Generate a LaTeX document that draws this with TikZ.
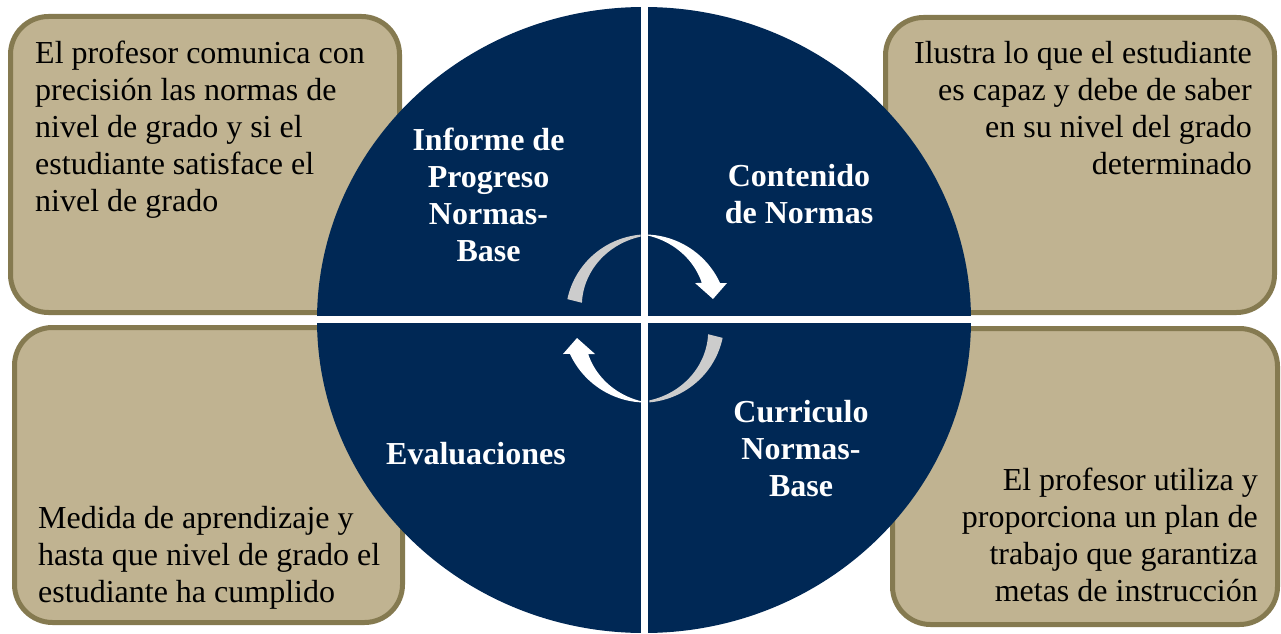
\documentclass[tikz,border=0pt]{standalone}
\usepackage{fontspec}
\setmainfont{Liberation Serif}
\definecolor{navy}{RGB}{0,40,85}
\definecolor{boxfill}{RGB}{192,179,145}
\definecolor{boxline}{RGB}{133,122,80}
\definecolor{arrowgrey}{RGB}{204,204,204}
\begin{document}
\begin{tikzpicture}[x=1pt,y=1pt,
  infobox/.style={draw=boxline, fill=boxfill, line width=5pt, rounded corners=38pt},
  infotext/.style={inner sep=0pt, font=\fontsize{32}{37}\selectfont, text=black},
  quadlabel/.style={inner sep=0pt, align=center, text=white, font=\fontsize{32}{37}\selectfont\bfseries}]
\useasboundingbox (0,0) rectangle (1281,633);
\fill[white] (0,0) rectangle (1281,633);
% boxes
\draw[infobox] (10.5,320.5) rectangle (399.5,616.5);
\draw[infobox] (885.5,320.5) rectangle (1274.5,615.5);
\draw[infobox] (14.5,10.5) rectangle (402.5,305.5);
\draw[infobox] (892.5,8.5) rectangle (1277.5,304.5);
% circle
\fill[navy] (644,313) ellipse [x radius=327, y radius=313];
\fill[white] (640.5,-5) rectangle (647.5,640);
\fill[white] (300,310) rectangle (990,317);
% cycle arrows
\begin{scope}[shift={(645,314.5)}]
  \foreach \rot in {0,180}{
  \begin{scope}[rotate=\rot]
    \fill[arrowgrey] plot[domain=93:166,samples=40] (\x:{84-4*(\x-93)/73})
      -- plot[domain=166:93,samples=40] (\x:{82-17*(\x-93)/73}) -- cycle;
    \fill[white] plot[domain=88:25.3,samples=40] (\x:{84-1*(88-\x)/63})
      -- (82,35.5) -- (68,19.5) -- (50,35.5)
      -- plot[domain=32:88,samples=40] (\x:{83-16*(88-\x)/56}) -- cycle;
  \end{scope}}
\end{scope}
% box texts
\node[infotext, anchor=north west, align=left] (tl) at (35,592)
  {El profesor comunica con\\precisión las normas de\\nivel de grado y si el\\estudiante satisface el\\nivel de grado};
\node[infotext, anchor=north east, align=right] (tr) at (1252,592)
  {Ilustra lo que el estudiante\\es capaz y debe de saber\\en su nivel del grado\\determinado};
\node[infotext, anchor=north west, align=left] (bl) at (38,127)
  {Medida de aprendizaje y\\hasta que nivel de grado el\\estudiante ha cumplido};
\node[infotext, anchor=north east, align=right] (br) at (1258,165)
  {El profesor utiliza y\\proporciona un plan de\\trabajo que garantiza\\metas de instrucción};
% quadrant labels
\node[quadlabel, anchor=north] (q1) at (488.5,505.5) {Informe de\\Progreso\\Normas-\\Base};
\node[quadlabel, anchor=north] (q2) at (799,468.5) {Contenido\\de Normas};
\node[quadlabel, anchor=north] (q3) at (801,232.5) {Curriculo\\Normas-\\Base};
\node[quadlabel, anchor=north] (q4) at (476,190.5) {Evaluaciones};
\end{tikzpicture}
\end{document}
